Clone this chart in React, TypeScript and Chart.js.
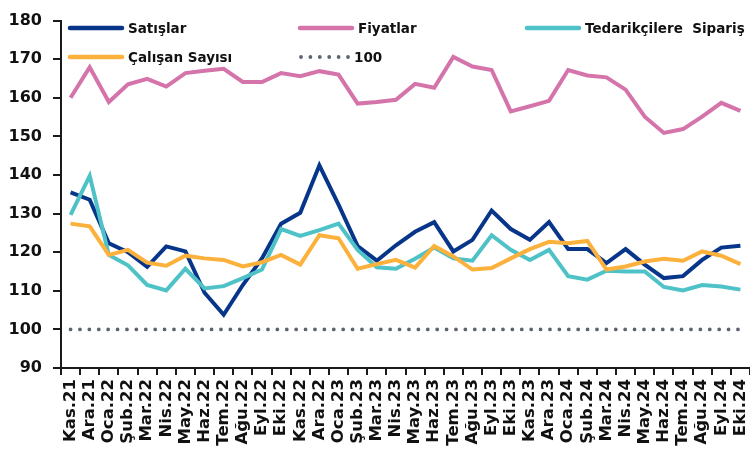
import React, { useEffect, useRef } from "react";
import { Chart, registerables } from "chart.js";

Chart.register(...registerables);

const labels = [
  "Kas.21", "Ara.21", "Oca.22", "Şub.22", "Mar.22", "Nis.22", "May.22", "Haz.22", "Tem.22", "Ağu.22", "Eyl.22", "Eki.22",
  "Kas.22", "Ara.22", "Oca.23", "Şub.23", "Mar.23", "Nis.23", "May.23", "Haz.23", "Tem.23", "Ağu.23", "Eyl.23", "Eki.23",
  "Kas.23", "Ara.23", "Oca.24", "Şub.24", "Mar.24", "Nis.24", "May.24", "Haz.24", "Tem.24", "Ağu.24", "Eyl.24", "Eki.24",
];

const satislar = [
  135.5, 133.6, 122.3, 120, 116.2, 121.5, 120.2, 109.5, 103.8, 111.5, 118.4, 127.4,
  130.2, 142.5, 132.3, 121.6, 117.8, 121.8, 125.3, 127.8, 120.2, 123.2, 130.8, 126,
  123.2, 127.8, 120.8, 120.8, 117.2, 120.8, 116.8, 113.3, 113.8, 118, 121.2, 121.7,
];

const fiyatlar = [
  160, 167.9, 158.9, 163.5, 164.9, 162.9, 166.4, 167, 167.5, 164.1, 164.1, 166.4,
  165.6, 166.9, 166, 158.5, 158.9, 159.5, 163.6, 162.6, 170.6, 168.1, 167.2, 156.5,
  157.8, 159.2, 167.2, 165.8, 165.3, 162.1, 155.1, 150.9, 151.9, 155.1, 158.7, 156.6,
];

const tedarik = [
  129.7, 139.8, 119.3, 116.6, 111.5, 110.1, 115.7, 110.6, 111.2, 113.3, 115.5, 126,
  124.2, 125.7, 127.4, 120.6, 116.1, 115.7, 118.3, 121.2, 118.4, 117.8, 124.4, 120.6,
  118, 120.6, 113.8, 112.9, 115.2, 115, 115, 111, 110.1, 111.5, 111.1, 110.3,
];

const calisan = [
  127.4, 126.7, 119.3, 120.6, 117.3, 116.5, 119.1, 118.4, 118, 116.3, 117.4, 119.3,
  116.8, 124.4, 123.6, 115.7, 116.9, 118, 116, 121.6, 118.9, 115.5, 115.9, 118.4,
  120.8, 122.7, 122.3, 122.9, 115.5, 116.3, 117.6, 118.3, 117.8, 120.2, 119.1, 116.9,
];

const referans = [
  100, 100, 100, 100, 100, 100, 100, 100, 100, 100, 100, 100,
  100, 100, 100, 100, 100, 100, 100, 100, 100, 100, 100, 100,
  100, 100, 100, 100, 100, 100, 100, 100, 100, 100, 100, 100,
];

const seriesNames = ["Satışlar", "Fiyatlar", "Tedarikçilere  Sipariş", "Çalışan Sayısı", "100"];
const yTicks = [90, 100, 110, 120, 130, 140, 150, 160, 170, 180];

const NAVY = "#06358a";
const PINK = "#d574aa";
const TEAL = "#4ec2c7";
const ORANGE = "#fbb13c";
const GRAY = "#5c6470";
const FONT = "'DejaVu Sans', sans-serif";

const legendPlugin = {
  id: "gridLegend",
  afterDraw(chart: any) {
    const ctx = chart.ctx as CanvasRenderingContext2D;
    const items = [
      { text: seriesNames[0], color: NAVY, x: 70, y: 28, dotted: false },
      { text: seriesNames[1], color: PINK, x: 300, y: 28, dotted: false },
      { text: seriesNames[2], color: TEAL, x: 527, y: 28, dotted: false },
      { text: seriesNames[3], color: ORANGE, x: 70, y: 57, dotted: false },
      { text: seriesNames[4], color: GRAY, x: 301, y: 57, dotted: true },
    ];
    ctx.save();
    for (const it of items) {
      ctx.beginPath();
      ctx.strokeStyle = it.color;
      ctx.lineCap = "round";
      if (it.dotted) {
        ctx.lineWidth = 3.8;
        ctx.setLineDash([0, 9.4]);
        ctx.moveTo(it.x, it.y);
        ctx.lineTo(it.x + 48, it.y);
      } else {
        ctx.lineWidth = 4.5;
        ctx.setLineDash([]);
        ctx.moveTo(it.x, it.y);
        ctx.lineTo(it.x + 52, it.y);
      }
      ctx.stroke();
      ctx.setLineDash([]);
      ctx.fillStyle = "#111111";
      ctx.font = `bold 13.5px ${FONT}`;
      ctx.textAlign = "left";
      ctx.textBaseline = "middle";
      ctx.fillText(it.text, it.x + (it.dotted ? 53 : 58), it.y + 1);
    }
    ctx.restore();
  },
};

export default function App() {
  const canvasRef = useRef<HTMLCanvasElement | null>(null);

  useEffect(() => {
    if (!canvasRef.current) return;
    const chart = new Chart(canvasRef.current, {
      type: "line",
      data: {
        labels,
        datasets: [
          {
            label: seriesNames[3],
            data: calisan,
            borderColor: ORANGE,
            backgroundColor: ORANGE,
            borderWidth: 4,
            pointRadius: 0,
            tension: 0,
          },
          {
            label: seriesNames[2],
            data: tedarik,
            borderColor: TEAL,
            backgroundColor: TEAL,
            borderWidth: 4,
            pointRadius: 0,
            tension: 0,
          },
          {
            label: seriesNames[0],
            data: satislar,
            borderColor: NAVY,
            backgroundColor: NAVY,
            borderWidth: 4,
            pointRadius: 0,
            tension: 0,
          },
          {
            label: seriesNames[1],
            data: fiyatlar,
            borderColor: PINK,
            backgroundColor: PINK,
            borderWidth: 4,
            pointRadius: 0,
            tension: 0,
          },
          {
            label: seriesNames[4],
            data: referans,
            borderColor: GRAY,
            backgroundColor: GRAY,
            borderWidth: 3.8,
            borderDash: [0, 9.4],
            borderCapStyle: "round",
            pointRadius: 0,
            tension: 0,
          },
        ],
      },
      options: {
        responsive: false,
        animation: false,
        devicePixelRatio: 1,
        layout: { padding: { top: 14, left: 0, right: 0, bottom: 0 } },
        plugins: {
          legend: { display: false },
          tooltip: { enabled: false },
        },
        scales: {
          x: {
            type: "category",
            offset: true,
            grid: {
              display: true,
              drawOnChartArea: false,
              drawTicks: true,
              tickLength: 7,
              color: "#1a1a1a",
              lineWidth: 2,
              offset: true,
            },
            border: { display: true, color: "#1a1a1a", width: 2 },
            ticks: {
              autoSkip: false,
              maxRotation: 90,
              minRotation: 90,
              padding: 4,
              color: "#111111",
              font: { family: FONT, size: 16.5, weight: "bold" },
            },
            afterFit(scale: any) {
              scale.height = 83;
              scale.paddingLeft = 0;
              scale.paddingRight = 0;
            },
          },
          y: {
            min: 90,
            max: 180,
            afterBuildTicks(scale: any) {
              scale.ticks = yTicks.map((v) => ({ value: v }));
            },
            grid: {
              display: true,
              drawOnChartArea: false,
              drawTicks: true,
              tickLength: 8,
              color: "#1a1a1a",
              lineWidth: 2,
            },
            border: { display: true, color: "#1a1a1a", width: 2 },
            ticks: {
              padding: 11,
              color: "#111111",
              font: { family: FONT, size: 16, weight: "bold" },
            },
            afterFit(scale: any) {
              scale.width = 61;
            },
          },
        },
      },
      plugins: [legendPlugin],
    });
    return () => chart.destroy();
  }, []);

  return (
    <div style={{ position: "absolute", left: 0, top: 0, width: 750, height: 451, background: "#ffffff" }}>
      <canvas ref={canvasRef} width={750} height={451} style={{ display: "block" }} />
    </div>
  );
}
